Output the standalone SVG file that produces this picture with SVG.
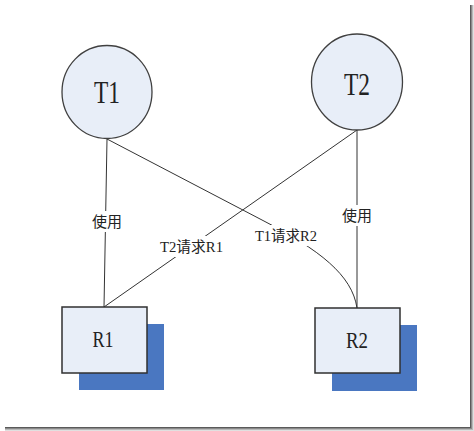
<svg xmlns="http://www.w3.org/2000/svg" width="474" height="431" viewBox="0 0 474 431">
<style>
.node{fill:#E8EEF8;stroke:#404040;stroke-width:1.3}
.rect{fill:#E8EEF8;stroke:#303030;stroke-width:1.5}
.shadow{fill:#4A77C1}
.edge{fill:none;stroke:#333;stroke-width:1}
.bg{fill:#fff}
text{font-family:"Liberation Serif","Noto Sans CJK SC",serif;fill:#222;text-anchor:middle}
.big{font-size:32px}
.mid{font-size:24px}
.lbl{font-size:15px}
</style>
<rect x="0" y="0" width="474" height="431" fill="#fff"/>
<g id="frame">
<rect x="470" y="5" width="1" height="423" fill="#5a5a5a"/>
<rect x="471" y="5" width="1" height="424" fill="#8a8a8a"/>
<rect x="472" y="5" width="1" height="425" fill="#b8b8b8"/>
<rect x="473" y="5" width="1" height="426" fill="#e0e0e0"/>
<rect x="5" y="427" width="465" height="1" fill="#5a5a5a"/>
<rect x="5" y="428" width="466" height="1" fill="#8a8a8a"/>
<rect x="5" y="429" width="467" height="1" fill="#b8b8b8"/>
<rect x="5" y="430" width="468" height="1" fill="#e0e0e0"/>
</g>
<g id="connectors">
<path class="edge" d="M107,139 L104,307"/>
<path class="edge" d="M107,139 L262,220 C320,250 352,275 357,308"/>
<path class="edge" d="M357,130 L104,307"/>
<path class="edge" d="M357,130 L357,308"/>
<rect class="bg" x="90" y="211" width="34" height="21"/>
<text class="lbl" x="107" y="227" textLength="30" lengthAdjust="spacingAndGlyphs">使用</text>
<rect class="bg" x="340" y="205" width="34" height="21"/>
<text class="lbl" x="357" y="221" textLength="30" lengthAdjust="spacingAndGlyphs">使用</text>
<rect class="bg" x="157" y="236" width="70" height="21"/>
<text class="lbl" x="191.5" y="252" textLength="63" lengthAdjust="spacingAndGlyphs">T2请求R1</text>
<rect class="bg" x="252" y="225" width="69" height="21"/>
<text class="lbl" x="286" y="241" textLength="62" lengthAdjust="spacingAndGlyphs">T1请求R2</text>
</g>
<g id="T1">
<ellipse class="node" cx="107" cy="92" rx="45" ry="46.5"/>
<text class="big" x="107" y="103" textLength="26" lengthAdjust="spacingAndGlyphs">T1</text>
</g>
<g id="T2">
<ellipse class="node" cx="357" cy="82" rx="45.5" ry="48"/>
<text class="big" x="357" y="95" textLength="26" lengthAdjust="spacingAndGlyphs">T2</text>
</g>
<g id="R1">
<rect class="shadow" x="79" y="324" width="85" height="66"/>
<rect class="rect" x="62" y="307" width="85" height="66"/>
<text class="mid" x="103" y="347" textLength="21" lengthAdjust="spacingAndGlyphs">R1</text>
</g>
<g id="R2">
<rect class="shadow" x="332" y="325" width="85" height="66"/>
<rect class="rect" x="315" y="308" width="85" height="65"/>
<text class="mid" x="357" y="348" textLength="22" lengthAdjust="spacingAndGlyphs">R2</text>
</g>
</svg>
